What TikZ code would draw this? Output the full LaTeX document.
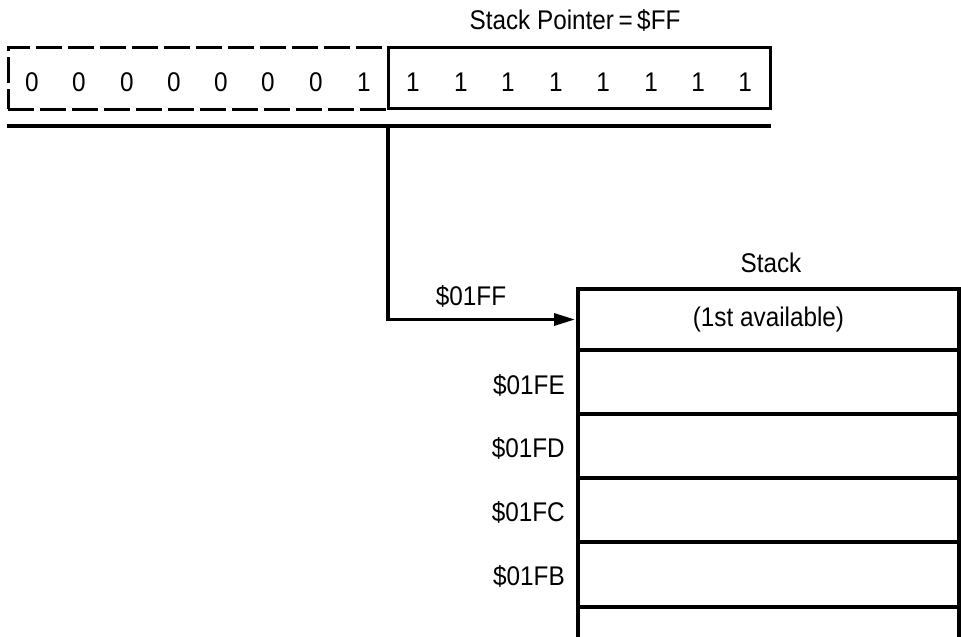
\documentclass[tikz,border=0pt]{standalone}
\usepackage{fontspec}
\setmainfont{Liberation Sans}[FakeStretch=0.9]
\usetikzlibrary{arrows.meta}
\begin{document}
\begin{tikzpicture}[x=1pt,y=-1pt,
  thick line/.style={line width=3.2pt},
  lbl/.style={font=\fontsize{27}{30}\selectfont, inner sep=0pt},
  cell/.style={draw, line width=3.2pt, minimum width=381pt, minimum height=64pt, anchor=north west, inner sep=0pt, outer sep=0pt},
  dash box/.style={draw, line width=3pt, dash pattern=on 26pt off 6pt, minimum width=380pt, minimum height=62pt, anchor=north west, inner sep=0pt, outer sep=0pt},
  solid box/.style={draw, line width=3pt, minimum width=382pt, minimum height=61pt, anchor=north west, inner sep=0pt, outer sep=0pt}]
\useasboundingbox (0,0) rectangle (961,637);
% register
\node[dash box] (hi) at (8,47) {};
\node[solid box] (lo) at (388,47) {};
\node[lbl] (sp) at (575,20) {Stack Pointer\,=\,\$FF};
\foreach \i/\x in {1/32,2/79,3/127,4/174,5/221,6/268,7/316,8/364}{
  \node[lbl] (h\i) at (\x,82) {\ifnum\i=8 1\else 0\fi};
}
\foreach \i/\x in {1/413,2/461,3/508,4/556,5/603,6/651,7/698,8/745}{
  \node[lbl] (l\i) at (\x,82) {1};
}
\coordinate (busL) at (7,126);
\coordinate (busR) at (771,126);
\draw[thick line] (busL) -- (busR);
\coordinate (tap) at (388,126);
% stack
\node[lbl] (stk) at (771,263) {Stack};
\node[cell, minimum height=61pt] (c1) at (578,289) {};
\node[lbl] at (c1.center) {(1st available)};
\node[cell] (c2) at (c1.south west) {};
\node[cell] (c3) at (c2.south west) {};
\node[cell] (c4) at (c3.south west) {};
\node[cell, minimum height=65pt] (c5) at (c4.south west) {};
\coordinate (b1) at (578,640);
\coordinate (b2) at (959,640);
\draw[thick line] (c5.south west) -- (b1);
\draw[thick line] (c5.south east) -- (b2);
\draw[thick line, -{Triangle[length=21pt,width=12pt]}, shorten >=3pt] (tap) |- (c1.west);
\node[lbl] (a1) at (471,296) {\$01FF};
\node[lbl, anchor=east] (a2) at (565,385) {\$01FE};
\node[lbl, anchor=east] (a3) at (565,448) {\$01FD};
\node[lbl, anchor=east] (a4) at (565,512) {\$01FC};
\node[lbl, anchor=east] (a5) at (565,576) {\$01FB};
\end{tikzpicture}
\end{document}
